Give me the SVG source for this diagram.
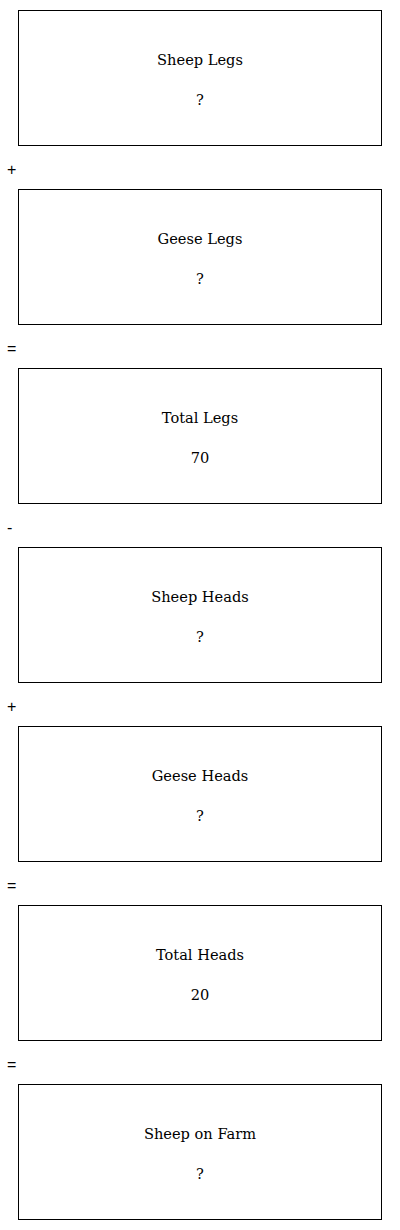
<svg xmlns="http://www.w3.org/2000/svg" width="400" height="1230" viewBox="0 0 400 1230">
<style>
.box{fill:#fff;stroke:#000;stroke-width:1}
.t{font-family:"DejaVu Serif",serif;font-size:14.6px;text-anchor:middle;fill:#000}
.op{font-family:"Liberation Sans",Arial,sans-serif;font-size:16px;fill:#000}
</style>
<rect width="400" height="1230" fill="#fff"/>
<g id="n1"><rect class="box" x="18.5" y="10.5" width="363" height="135"/><text class="t" x="200" y="65">Sheep Legs</text><text class="t" x="200" y="104.5">?</text></g>
<g id="n2"><rect class="box" x="18.5" y="189.5" width="363" height="135"/><text class="t" x="200" y="244">Geese Legs</text><text class="t" x="200" y="283.5">?</text></g>
<g id="n3"><rect class="box" x="18.5" y="368.5" width="363" height="135"/><text class="t" x="200" y="423">Total Legs</text><text class="t" x="200" y="462.5">70</text></g>
<g id="n4"><rect class="box" x="18.5" y="547.5" width="363" height="135"/><text class="t" x="200" y="602">Sheep Heads</text><text class="t" x="200" y="641.5">?</text></g>
<g id="n5"><rect class="box" x="18.5" y="726.5" width="363" height="135"/><text class="t" x="200" y="781">Geese Heads</text><text class="t" x="200" y="820.5">?</text></g>
<g id="n6"><rect class="box" x="18.5" y="905.5" width="363" height="135"/><text class="t" x="200" y="960">Total Heads</text><text class="t" x="200" y="999.5">20</text></g>
<g id="n7"><rect class="box" x="18.5" y="1084.5" width="363" height="135"/><text class="t" x="200" y="1139">Sheep on Farm</text><text class="t" x="200" y="1178.5">?</text></g>
<g id="operators">
<text class="op" x="7" y="175">+</text>
<text class="op" x="7" y="354">=</text>
<text class="op" x="7" y="533">-</text>
<text class="op" x="7" y="712">+</text>
<text class="op" x="7" y="891">=</text>
<text class="op" x="7" y="1070">=</text>
</g>
</svg>
